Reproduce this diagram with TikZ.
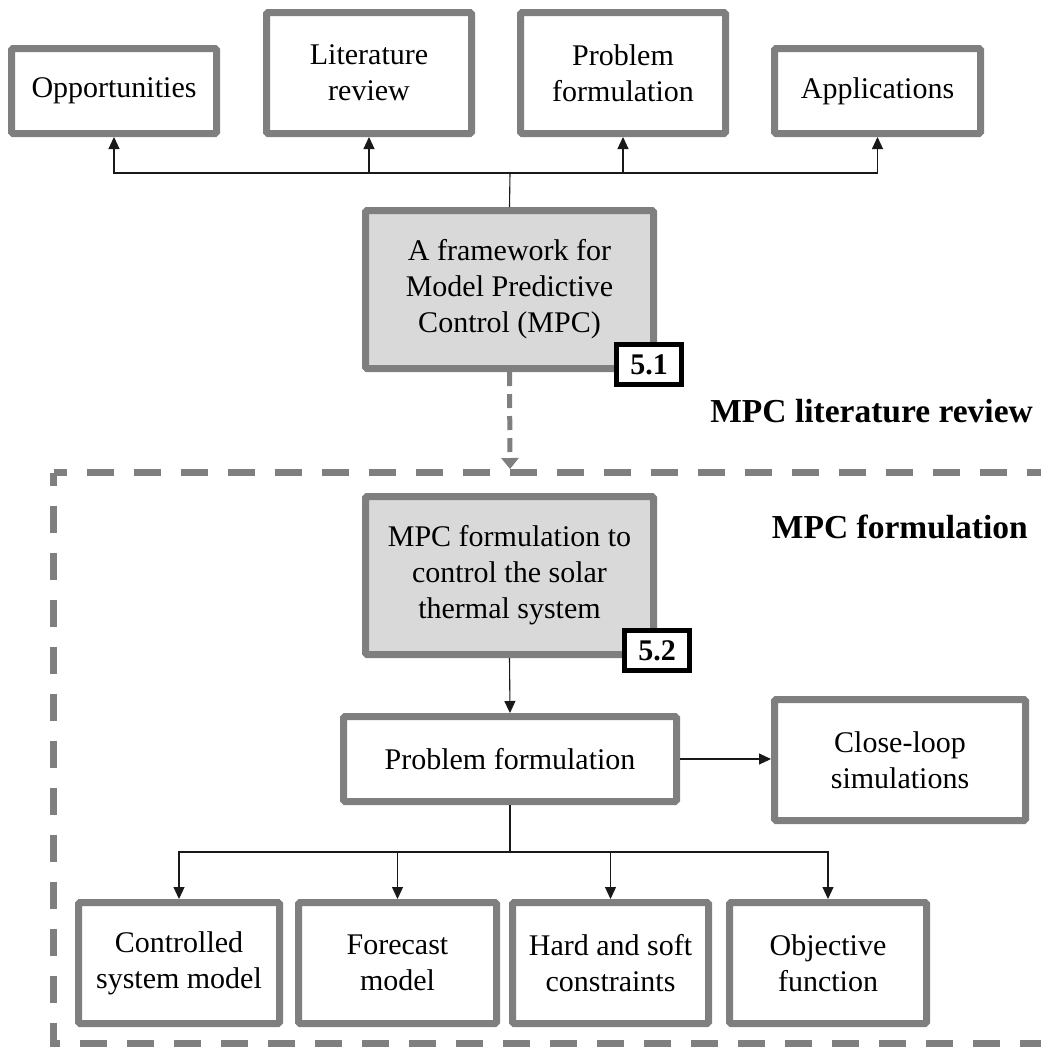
\documentclass[tikz,border=0pt]{standalone}
\usepackage{fontspec}
\setmainfont{Liberation Serif}
\usetikzlibrary{arrows.meta}
\definecolor{boxgray}{HTML}{7F7F7F}
\definecolor{fillgray}{HTML}{D9D9D9}
\tikzset{
  box/.style={draw=boxgray, line width=7pt, rounded corners=1.5pt, fill=white,
    outer sep=3.5pt, align=center, inner sep=0pt,
    font=\fontsize{30}{36}\selectfont},
  mainbox/.style={box, fill=fillgray},
  tag/.style={draw=black, line width=4.5pt, fill=white, inner sep=0pt,
    minimum width=65pt, minimum height=40pt,
    font=\bfseries\fontsize{30}{36}\selectfont},
  heading/.style={font=\bfseries\fontsize{33.5}{40}\selectfont, inner sep=0pt},
  conn/.style={line width=1.1pt, draw=black!90},
  arr/.style={conn, -{Triangle[length=12pt,width=11pt]}},
  frame/.style={draw=boxgray, line width=7pt, dash pattern=on 27pt off 20pt, dash phase=14pt}
}
\begin{document}
\begin{tikzpicture}[x=1pt, y=-1pt]
\useasboundingbox (0,0) rectangle (1041,1047);

% dashed frame of the formulation part (runs off the right edge)
\coordinate (fTL) at (53.5,472.5);
\draw[frame] (fTL) -- (1050,472.5);
\draw[frame] (fTL) -- (53.5,1043) -- (1050,1043);

% top row
\node[box, minimum width=205pt, minimum height=85pt]  (opp) at (114,91)   {Opportunities};
\node[box, minimum width=205pt, minimum height=121pt] (lit) at (369,73)   {Literature\\review};
\node[box, minimum width=205pt, minimum height=121pt] (pro) at (623,73)   {Problem\\formulation};
\node[box, minimum width=206pt, minimum height=85pt]  (app) at (877.5,91) {Applications};

% framework
\node[mainbox, minimum width=288pt, minimum height=158pt] (fw) at (509.5,289.5)
  {A framework for\\Model Predictive\\Control (MPC)};
\node[tag] (t51) at (649,364.5) {5.1};

\node[heading, anchor=base east] (h1) at (1033,422) {MPC literature review};
\node[heading, anchor=base east] (h2) at (1028,538) {MPC formulation};

% formulation part
\node[mainbox, minimum width=288pt, minimum height=158pt] (mf) at (509.5,575.5)
  {MPC formulation to\\control the solar\\thermal system};
\node[tag] (t52) at (657,650.5) {5.2};

\node[box, minimum width=333pt, minimum height=85pt]  (pf) at (510,759) {Problem formulation};
\node[box, minimum width=251pt, minimum height=121pt] (cl) at (900,760) {Close-loop\\simulations};

\node[box, minimum width=201pt, minimum height=121pt] (b1) at (179,963)   {Controlled\\system model};
\node[box, minimum width=198pt, minimum height=121pt] (b2) at (397.5,963) {Forecast\\model};
\node[box, minimum width=196pt, minimum height=121pt] (b3) at (610.5,963) {Hard and soft\\constraints};
\node[box, minimum width=197pt, minimum height=121pt] (b4) at (828,963)   {Objective\\function};

% connectors, top
\coordinate (bus1) at (510,173);
\draw[conn] (fw.north) -- (bus1);
\draw[arr] (bus1) -| (opp.south);
\draw[arr] (bus1) -| (lit.south);
\draw[arr] (bus1) -| (pro.south);
\draw[arr] (bus1) -| (app.south);

% dashed link into the frame
\coordinate (fin) at (510,469);
\draw[draw=boxgray, line width=5pt, dash pattern=on 14pt off 8pt,
  -{Triangle[length=11pt,width=17pt,fill=boxgray]}] (fw.south) -- (fin);

% connectors, formulation part
\draw[arr] (mf.south) -- (pf.north);
\draw[arr] (pf.east) -- (pf.east -| cl.west);
\coordinate (bus2) at (510,852);
\draw[conn] (pf.south) -- (bus2);
\draw[arr] (bus2) -| (b1.north);
\draw[arr] (bus2) -| (b2.north);
\draw[arr] (bus2) -| (b3.north);
\draw[arr] (bus2) -| (b4.north);
\end{tikzpicture}
\end{document}
